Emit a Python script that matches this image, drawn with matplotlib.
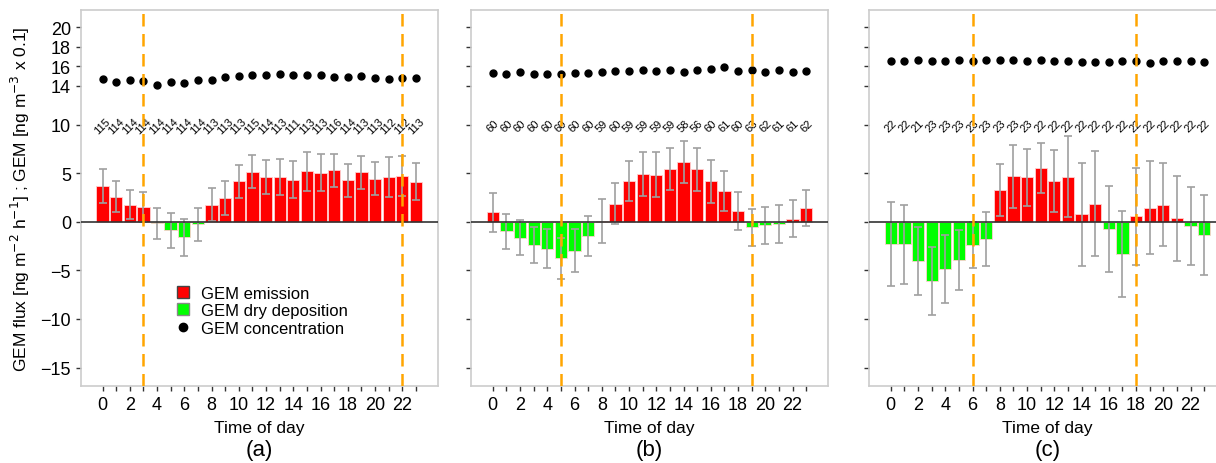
import numpy as np
import matplotlib.pyplot as plt

plt.rcParams['font.family'] = ['Liberation Sans', 'DejaVu Sans']

hours = np.arange(24)

# panel (a)
flux_a = [3.66, 2.6, 1.78, 1.54, -0.17, -0.89, -1.58, -0.24, 1.74, 2.46, 4.18, 5.17,
          4.62, 4.62, 4.35, 5.2, 5.03, 5.3, 4.28, 5.1, 4.42, 4.62, 4.69, 4.14]
err_a = [1.75, 1.64, 1.5, 1.57, 1.6, 1.8, 1.9, 1.7, 1.7, 1.75, 1.7, 1.7,
         1.72, 1.85, 1.9, 2.0, 1.9, 1.7, 1.7, 1.7, 1.7, 2.05, 2.05, 1.9]
conc_a = [14.7, 14.42, 14.55, 14.49, 14.08, 14.35, 14.32, 14.55, 14.62, 14.86, 15.04, 15.1,
          15.07, 15.17, 15.1, 15.07, 15.07, 14.93, 14.9, 14.97, 14.83, 14.66, 14.8, 14.76]
n_a = [115, 114, 114, 114, 114, 114, 114, 114, 113, 113, 113, 115,
       114, 113, 111, 113, 113, 116, 114, 113, 113, 112, 112, 113]

# panel (b)
flux_b = [0.99, -0.99, -1.64, -2.36, -2.77, -3.77, -2.98, -1.47, 0.05, 1.88, 4.18, 4.93,
          4.86, 5.41, 6.16, 5.41, 4.18, 3.18, 1.1, -0.58, -0.38, -0.27, 0.34, 1.4]
err_b = [2.0, 1.8, 1.8, 1.85, 2.0, 2.15, 2.2, 2.1, 2.25, 2.1, 2.07, 2.25,
         2.3, 2.15, 2.2, 2.2, 2.2, 2.1, 1.95, 1.93, 1.93, 1.95, 1.9, 1.87]
conc_b = [15.35, 15.18, 15.45, 15.25, 15.18, 15.25, 15.35, 15.31, 15.38, 15.48, 15.48, 15.59,
          15.52, 15.59, 15.45, 15.59, 15.72, 15.9, 15.52, 15.66, 15.42, 15.59, 15.38, 15.55]
n_b = [60, 60, 60, 60, 60, 60, 60, 60, 59, 60, 59, 59,
       59, 59, 58, 56, 60, 61, 60, 63, 62, 61, 61, 62]

# panel (c)
flux_c = [-2.26, -2.33, -4.0, -6.13, -4.83, -3.97, -2.4, -1.75, 3.29, 4.69, 4.59, 5.51,
          4.18, 4.66, 0.79, 1.88, -0.75, -3.32, 0.58, 1.47, 1.78, 0.38, -0.45, -1.37]
err_c = [4.3, 4.05, 3.5, 3.5, 3.5, 3.1, 2.33, 2.8, 2.7, 3.25, 2.95, 2.55,
         3.2, 4.2, 5.3, 5.4, 4.4, 4.4, 5.0, 4.8, 4.3, 4.38, 4.0, 4.14]
conc_c = [16.5, 16.5, 16.65, 16.5, 16.5, 16.65, 16.55, 16.65, 16.65, 16.65, 16.55, 16.65,
          16.6, 16.55, 16.4, 16.45, 16.45, 16.5, 16.55, 16.3, 16.6, 16.55, 16.55, 16.45]
n_c = [22, 22, 21, 23, 23, 23, 23, 23, 23, 23, 23, 22,
       22, 22, 22, 22, 22, 22, 22, 22, 22, 22, 22, 22]

sun_lines = {'a': (3, 22), 'b': (5, 19), 'c': (6, 18)}

panels = [('a', flux_a, err_a, conc_a, n_a, 80.7),
          ('b', flux_b, err_b, conc_b, n_b, 471),
          ('c', flux_c, err_c, conc_c, n_c, 869)]

W, H = 1216, 464
fig = plt.figure(figsize=(W / 100, H / 100), dpi=100)

for name, flux, err, conc, n, left in panels:
    ax = fig.add_axes([left / W, (H - 387) / H, 357 / W, (387 - 11) / H])
    flux = np.array(flux)
    colors = np.where(flux >= 0, '#ff0000', '#00ff00')
    ax.bar(hours, flux, width=0.9, color=colors, edgecolor='#ffd0d0', linewidth=0.6, zorder=2)
    ax.errorbar(hours, flux, yerr=err, fmt='none', ecolor='#a0a0a0', elinewidth=1.2,
                capsize=3, capthick=1.2, zorder=3)
    ax.axhline(0, color='#333333', lw=1.2, zorder=4)
    ax.plot(hours, conc, 'o', color='black', ms=5, zorder=5)
    for h, v in zip(hours, n):
        ax.text(h, 9.9, str(v), rotation=45, ha='center', va='center', fontsize=8)
    for x in sun_lines[name]:
        ax.axvline(x, color='#ffa500', lw=1.8, ls=(0, (5, 3)), zorder=6)

    ax.set_xlim(-1.6, 24.6)
    ax.set_ylim(-16.9, 21.8)
    ax.set_yticks([-15, -10, -5, 0, 5, 10, 14, 16, 18, 20])
    ax.set_xticks(hours)
    ax.set_xticklabels([str(h) if h % 2 == 0 else '' for h in hours], fontsize=13)
    ax.tick_params(axis='both', length=3.5, width=1, color='#333333', labelsize=13)
    if name != 'a':
        ax.set_yticklabels([])
    for s in ax.spines.values():
        s.set_color('#cccccc')
        s.set_linewidth(1.2)
    ax.set_xlabel('Time of day', fontsize=12.5, labelpad=5)
    ax.text(0.5, -0.168, '(%s)' % name, transform=ax.transAxes, ha='center', va='center', fontsize=16)

    if name == 'a':
        ax.set_ylabel('GEM flux [ng m$^{-2}$ h$^{-1}$] ; GEM [ng m$^{-3}$ x 0.1]', fontsize=12.5, labelpad=6)
        hs = [plt.Line2D([], [], marker='s', ls='none', mfc='#ff0000', mec='#444444', ms=8),
              plt.Line2D([], [], marker='s', ls='none', mfc='#00ff00', mec='#888888', ms=8),
              plt.Line2D([], [], marker='o', ls='none', color='black', ms=6)]
        ax.legend(hs, ['GEM emission', 'GEM dry deposition', 'GEM concentration'],
                  loc='upper left', bbox_to_anchor=(0.22, 0.285), frameon=False,
                  fontsize=12, handletextpad=0.1, labelspacing=0.15, borderaxespad=0)

fig.savefig('out.png', dpi=100)
